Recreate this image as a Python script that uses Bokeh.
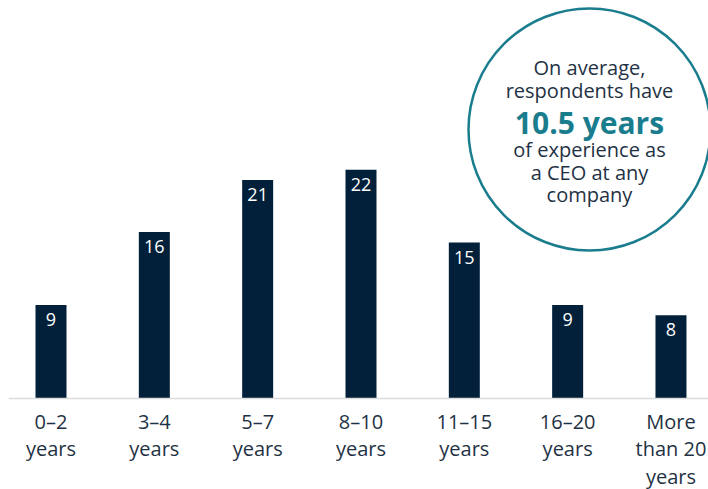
from bokeh.plotting import figure
from bokeh.models import Range1d, Span, ColumnDataSource
from bokeh.core.properties import value
from bokeh.embed import file_html
from bokeh.resources import INLINE

categories = ["0–2\nyears", "3–4\nyears", "5–7\nyears", "8–10\nyears",
              "11–15\nyears", "16–20\nyears", "More\nthan 20\nyears"]
values = [9, 16, 21, 22, 15, 9, 8]
callout_lines = ["On average,", "respondents have", "10.5 years",
                 "of experience as", "a CEO at any", "company"]

NAVY = "#02203a"
TEAL = "#1a7d8e"
TEXT = "#1f3244"
FONT = "Open Sans"

W, H = 708, 489
left = 8
px_per_cat = 103.33
px_per_unit = 10.4
base_px = 398

x_start = -(50.5 - left) / px_per_cat
x_end = x_start + (W - left) / px_per_cat
y_end = base_px / px_per_unit
y_start = -(H - base_px) / px_per_unit

p = figure(width=W, height=H, output_backend="svg", toolbar_location=None,
           x_range=Range1d(x_start, x_end), y_range=Range1d(y_start, y_end),
           min_border_left=left, min_border_right=0, min_border_top=0,
           min_border_bottom=0)
p.axis.visible = False
p.grid.visible = False
p.outline_line_color = None
p.background_fill_color = "white"
p.border_fill_color = "white"

idx = list(range(len(categories)))
src = ColumnDataSource(dict(x=idx, top=values, lab=[str(v) for v in values],
                            cat=categories, zero=[0] * len(values)))

p.vbar(x="x", top="top", width=0.3, bottom=0, source=src,
       fill_color=NAVY, line_color=None)

p.add_layout(Span(location=0, dimension="width", line_color="#dcdcdc",
                  line_width=1.5))

p.text(x="x", y="top", text="lab", source=src, text_color="white",
       text_font=value(FONT), text_font_size="18px", text_align="center",
       text_baseline="top", y_offset=8)

p.text(x="x", y="zero", text="cat", source=src, text_color=TEXT,
       text_font=value(FONT), text_font_size="20px", text_align="center",
       text_baseline="top", y_offset=9, text_line_height=1.03)

# callout circle (annotation)
cx_px, cy_px, diam = 589, 129, 242
cx = x_start + (cx_px - left) / px_per_cat
cy = (base_px - cy_px) / px_per_unit
p.scatter(x=[cx], y=[cy], size=diam, marker="circle", fill_color="white",
          line_color=TEAL, line_width=2.5)

offsets = [-62, -39, -7, 20, 43, 65]
for line, off in zip(callout_lines, offsets):
    bold = line.startswith("10.5")
    p.text(x=[cx], y=[cy], text=[line], text_align="center",
           text_baseline="alphabetic", y_offset=off,
           text_font=value(FONT),
           text_font_size="30px" if bold else "20px",
           text_font_style="bold" if bold else "normal",
           text_color=TEAL if bold else TEXT)

open("out.html", "w").write(file_html(p, INLINE))
